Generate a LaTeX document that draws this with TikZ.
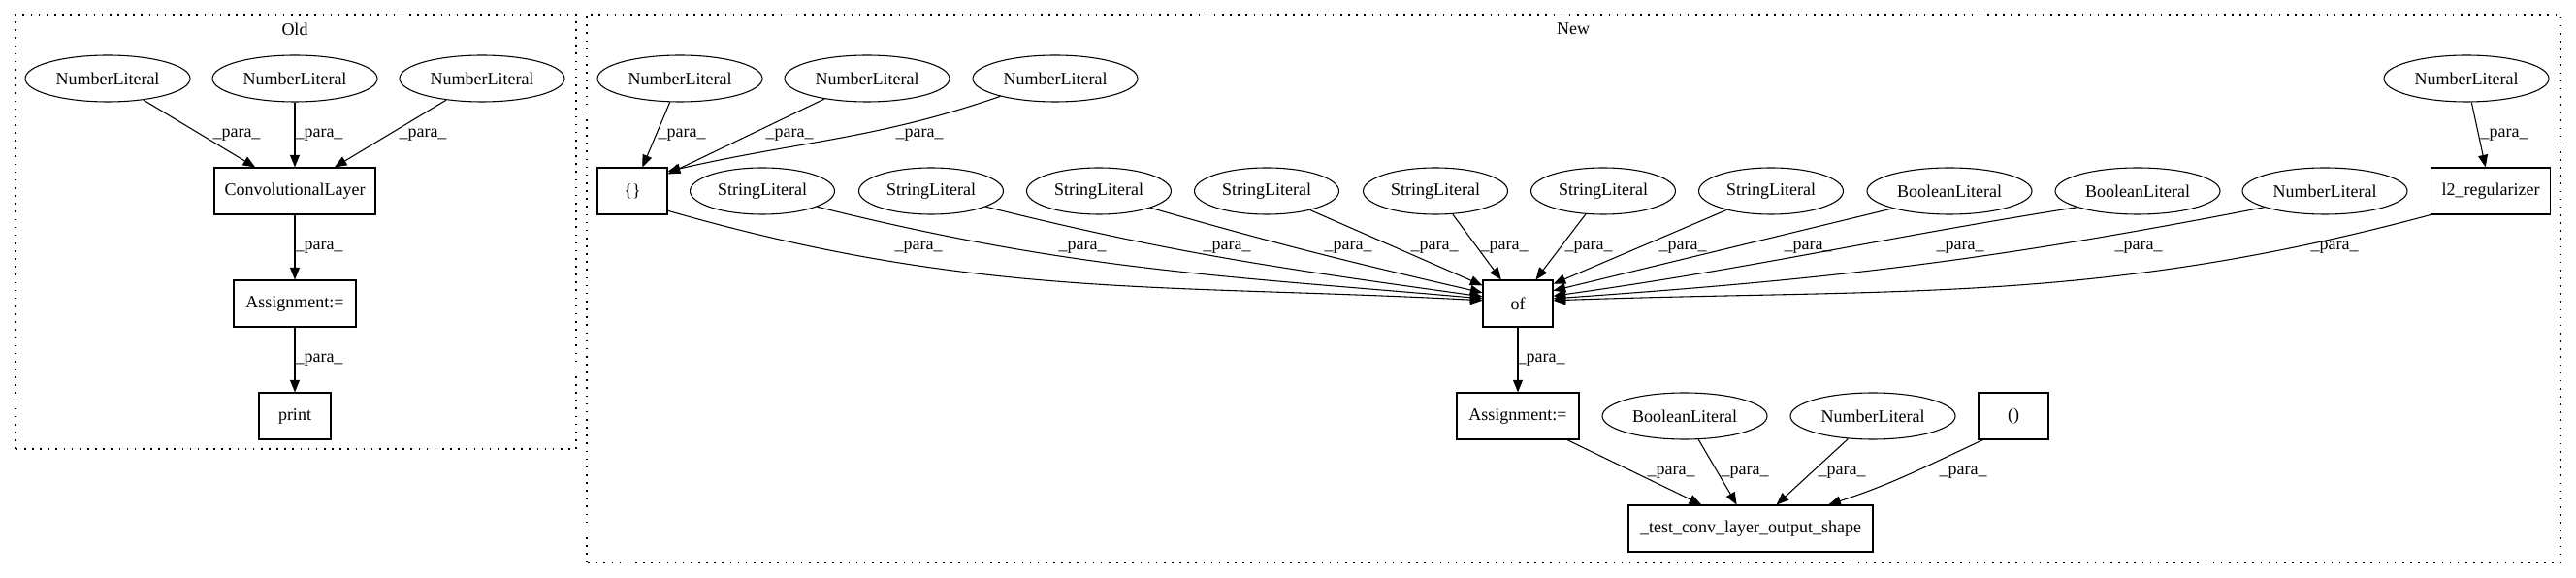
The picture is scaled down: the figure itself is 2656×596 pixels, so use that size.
\documentclass[tikz,border=0pt]{standalone}
\usepackage{fontspec}
\setmainfont{Liberation Serif}
\usetikzlibrary{arrows.meta, shapes.geometric}

\begin{document}
\begin{tikzpicture}[x=0.75pt, y=0.75pt, line width=0.8pt,
    font=\fontsize{13.5}{16}\selectfont,
    lit/.style={ellipse, draw, inner sep=0pt, minimum width=127.5pt, minimum height=36pt},
    strlit/.style={lit, minimum width=111.75pt},
    op/.style={rectangle, draw, inner sep=0pt, minimum width=54pt, minimum height=36pt},
    para/.style={-{Triangle[length=9.5pt, width=7.5pt]}},
    lbl/.style={inner sep=0pt},
    cluster/.style={dash pattern=on 1.2pt off 4.9pt}]
\useasboundingbox (0,0) rectangle (2656,596);
% clusters
\draw[cluster] (16,133) rectangle (594,581);
\draw[cluster] (605,16) rectangle (2640,581);
\node (oldtitle) at (304,566) {Old};
\node (newtitle) at (1622,566) {New};

% old graph
\node[lit] (onum1) at (111,515) {NumberLiteral};
\node[lit] (onum2) at (304,515) {NumberLiteral};
\node[lit] (onum3) at (497,515) {NumberLiteral};
\node[op, minimum width=124.5pt] (oconv) at (304,399) {ConvolutionalLayer};
\node[op, minimum width=94.5pt] (oassign) at (304,283) {Assignment:=};
\node[op, minimum width=55.5pt] (oprint) at (304,167) {print};

% new graph
\node[lit] (nnum1) at (701,515) {NumberLiteral};
\node[lit] (nnum2) at (894,515) {NumberLiteral};
\node[lit] (nnum3) at (1088,515) {NumberLiteral};
\node[lit] (numtop) at (2543,515) {NumberLiteral};
\node[op] (braces) at (652,399) {\{\}};
\foreach \x [count=\i] in {786,960,1133,1306,1480,1653,1826}
  \node[strlit] (str\i) at (\x,399) {StringLiteral};
\node[lit] (bool1) at (2010,399) {BooleanLiteral};
\node[lit] (bool2) at (2204,399) {BooleanLiteral};
\node[lit] (num4) at (2397,399) {NumberLiteral};
\node[op, minimum width=92pt] (ltwo) at (2568,399) {l2\_regularizer};
\node[op] (of) at (1565,283) {of};
\node[op, minimum width=94.5pt] (assign) at (1565,167) {Assignment:=};
\node[lit] (bool3) at (1737,167) {BooleanLiteral};
\node[lit] (num5) at (1931,167) {NumberLiteral};
\node[op] (paren) at (2076,167) {()};
\node[op, minimum width=189pt] (testconv) at (1805,51) {\_test\_conv\_layer\_output\_shape};

% straight edges
\foreach \s/\t in {onum1/oconv, onum2/oconv, onum3/oconv, oconv/oassign, oassign/oprint,
    nnum1/braces, nnum2/braces, str4/of.153, str5/of.125, str6/of.53, str7/of.29,
    bool1.197/of.20, numtop/ltwo, of/assign, assign/testconv, bool3/testconv, num5/testconv}
  \draw[para] (\s) -- (\t);
% bent edges
\foreach \s/\t/\a/\b in {nnum3.198/braces.29/199/13, braces.-29/of.175/-16/177,
    str1.-16/of.172/-14/175, str2.-16/of.169/-14/172, str3.-18/of.163/-16/167,
    bool2.195/of.12/189/8, num4.195/of.8/191/4, ltwo.south west/of.5/195/2,
    paren.218/testconv.17/205/18}
  \draw[para] (\s) to[out=\a, in=\b] (\t);

% edge labels
\foreach \x/\y [count=\i] in {244/457, 329/457, 436/457, 329/341, 329/225,
    703/457, 814/457, 948/457, 2582/457,
    947/341, 1116/341, 1265/341, 1390/341, 1479/341, 1551/341, 1638/341,
    1735/341, 1864/341, 2021/341, 2205/341, 2407/341,
    1589/225, 1723/109, 1799/109, 1899/109, 2024/109}
  \node[lbl] (p\i) at (\x,\y) {\_para\_};
\end{tikzpicture}
\end{document}
